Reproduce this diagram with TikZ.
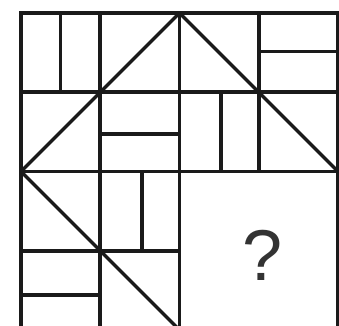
\documentclass[tikz,border=0pt]{standalone}
\usepackage{fontspec}
\setmainfont{Liberation Sans}
\definecolor{ink}{HTML}{1A1A1A}
\definecolor{qmark}{HTML}{333333}
\tikzset{
  gridline/.style={draw=ink, line width=3.6pt, line cap=rect},
  diag/.style={draw=ink, line width=3.2pt},
  qtext/.style={text=qmark, font=\fontsize{72}{72}\selectfont, inner sep=0pt}
}
\begin{document}
\begin{tikzpicture}[x=1pt,y=-1pt]
\useasboundingbox (0,0) rectangle (339,325);
\fill[white] (0,0) rectangle (339,325);
\clip (0,0) rectangle (339,325);
% grid coordinates
\def\xa{21}\def\xb{100.25}\def\xc{179.5}\def\xd{258.75}\def\xe{338}
\def\ya{13}\def\yb{92.25}\def\yc{171.5}\def\yd{250.75}\def\ye{330}
\coordinate (top) at (\xc,\ya);
\coordinate (left) at (\xa,\yc);
\coordinate (right) at (\xe,\yc);
\coordinate (bot) at (\xc,\ye);
% outer frame and main lines
\draw[gridline] (\xa,\ya) -- (\xa,\ye);
\draw[gridline] (\xb,\ya) -- (\xb,\ye);
\draw[gridline] (\xc,\ya) -- (\xc,\ye);
\draw[gridline] (\xd,\ya) -- (\xd,\yc);
\draw[gridline] (\xe,\ya) -- (\xe,\ye);
\draw[gridline] (\xa,\ya) -- (\xe,\ya);
\draw[gridline] (\xa,\yb) -- (\xe,\yb);
\draw[gridline] (\xa,\yc) -- (\xe,\yc);
\draw[gridline] (\xa,\yd) -- (\xc,\yd);
\draw[gridline] (\xa,\ye) -- (\xe,\ye);
% inner sub-lines
\draw[gridline] (60.6,\ya) -- (60.6,\yb);
\draw[gridline] (\xd,51.5) -- (\xe,51.5);
\draw[gridline] (\xb,134) -- (\xc,134);
\draw[gridline] (221,\yb) -- (221,\yc);
\draw[gridline] (142,\yc) -- (142,\yd);
\draw[gridline] (\xa,295) -- (\xb,295);
% diagonals
\draw[diag] (top) -- (left);
\draw[diag] (top) -- (right);
\draw[diag] (left) -- (bot);
% question mark
\node[qtext] (q) at (263,255) {?};
\end{tikzpicture}
\end{document}
